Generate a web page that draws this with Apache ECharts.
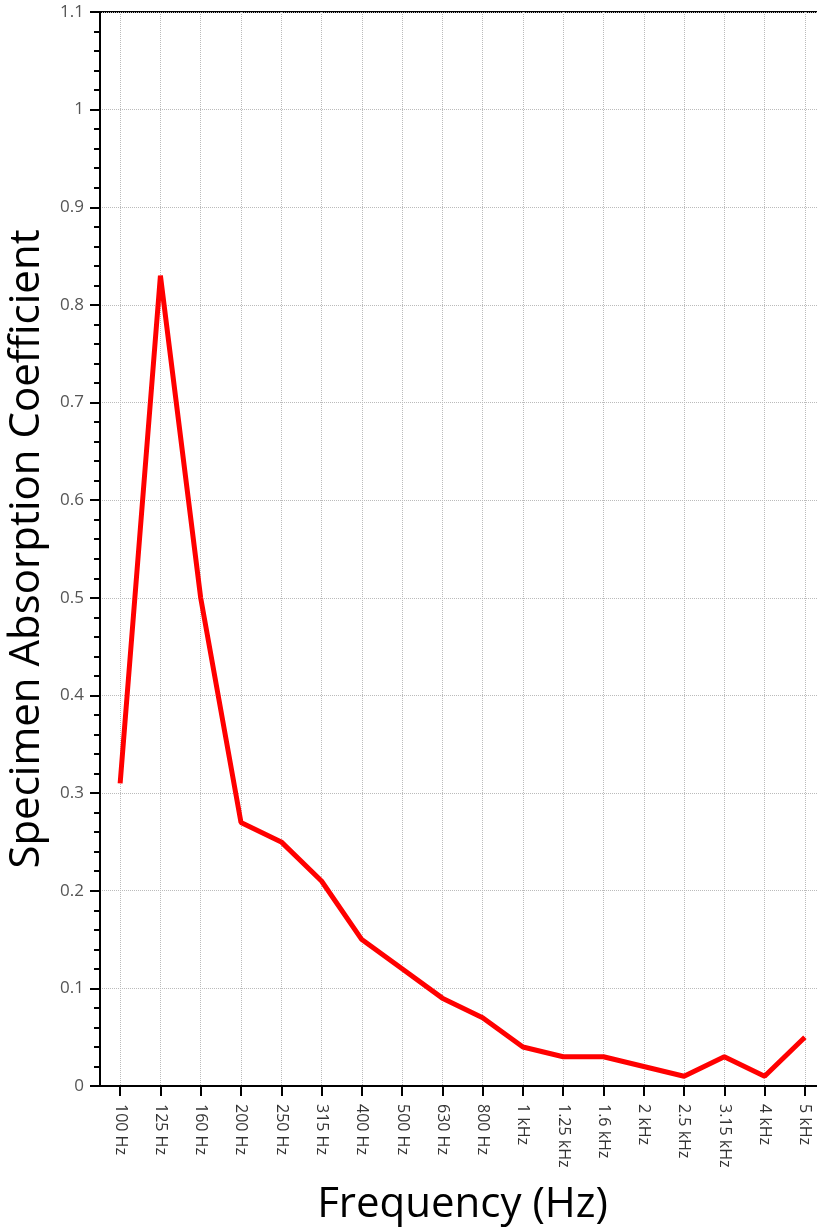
<!DOCTYPE html>
<html>
<head>
<meta charset="utf-8">
<script src="https://cdn.jsdelivr.net/npm/echarts@6/dist/echarts.min.js"></script>
<style>
html,body{margin:0;padding:0;background:#fff;overflow:hidden;}
#chart{width:817px;height:1230px;}
</style>
</head>
<body>
<div id="chart"></div>
<script>
const categories = ['100 Hz','125 Hz','160 Hz','200 Hz','250 Hz','315 Hz','400 Hz','500 Hz','630 Hz','800 Hz','1 kHz','1.25 kHz','1.6 kHz','2 kHz','2.5 kHz','3.15 kHz','4 kHz','5 kHz'];
const absorption = [0.31,0.83,0.50,0.27,0.25,0.21,0.15,0.12,0.09,0.07,0.04,0.03,0.03,0.02,0.01,0.03,0.01,0.05];
const xTitle = 'Frequency (Hz)';
const yTitle = 'Specimen Absorption Coefficient';

const chart = echarts.init(document.getElementById('chart'), null, {renderer:'canvas'});
const font = '"Open Sans", "Noto Sans", sans-serif';
chart.setOption({
  animation:false,
  backgroundColor:'#fff',
  grid:{left:100, width:725, top:12, bottom:144, outerBoundsMode:'none', containLabel:false, show:true, borderColor:'#000', borderWidth:2, backgroundColor:'transparent'},
  xAxis:{
    type:'category',
    data:categories,
    boundaryGap:true,
    name:xTitle,
    nameLocation:'middle',
    nameGap:98,
    nameTextStyle:{fontFamily:font, fontSize:42, color:'#000'},
    axisLine:{lineStyle:{color:'#000', width:2}},
    axisTick:{show:true, alignWithLabel:true, length:10, lineStyle:{color:'#000', width:2}},
    axisLabel:{rotate:-90, interval:0, margin:18, fontFamily:font, fontSize:16, color:'#333'},
    splitLine:{show:true, alignWithLabel:true, interval:0, lineStyle:{color:'#bbb', type:'dotted', width:1}}
  },
  yAxis:{
    type:'value',
    min:0, max:1.1, interval:0.1,
    name:yTitle,
    nameLocation:'middle',
    nameGap:52,
    nameTextStyle:{fontFamily:font, fontSize:42, color:'#000'},
    axisLine:{show:true, lineStyle:{color:'#000', width:2}},
    axisTick:{show:true, length:10, lineStyle:{color:'#000', width:2}},
    minorTick:{show:true, splitNumber:5, length:6, lineStyle:{color:'#000', width:2}},
    axisLabel:{margin:16, fontFamily:font, fontSize:17, color:'#555', formatter:v=>String(+v.toFixed(1))},
    splitLine:{show:true, lineStyle:{color:'#bbb', type:'dotted', width:1}}
  },
  series:[{
    type:'line',
    data:absorption,
    showSymbol:false,
    symbol:'none',
    lineStyle:{color:'#ff0000', width:5},
    itemStyle:{color:'#ff0000'}
  }]
});
</script>
</body>
</html>
